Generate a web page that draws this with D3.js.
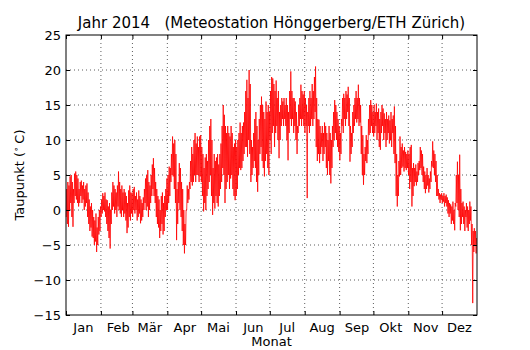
<!DOCTYPE html>
<html>
<head>
<meta charset="utf-8">
<script src="https://cdn.jsdelivr.net/npm/d3@7"></script>
<style>
  body { margin: 0; background: #fff; }
  text { font-family: "DejaVu Sans", sans-serif; fill: #000; }
</style>
</head>
<body>
<div id="chart"></div>
<script>
// Monatsnamen (Beschriftung der x-Achse)
var months = ["Jan", "Feb", "Mär", "Apr", "Mai", "Jun", "Jul", "Aug", "Sep", "Okt", "Nov", "Dez"];

// Tagesminimum des Taupunkts (°C), eine Zeile pro Monat
var dewLow = [
  [-1,-2,-2.4,0,1,-1,-2.4,1,2,1.5, 1,0.5,1,2,1,1.5,0,0.5,1,-1, -2,-3,-2.5,-3.8,-4,-5,-4.5,-6,-5,-3.5, -3],
  [-1,-0.5,0,-0.2,-1,-2,-3,-4,-5.5,-2, 0,0.5,-0.5,0,-1,0.5,0,-0.5,-1,0, -1,-0.5,-1.5,-3.3,-2.5,-1,-1.5,-0.5],
  [-1,0,-0.5,0,-1.5,-1,-0.5,-1.9,-1.5,-1, 0,1,0,0.5,-1,0,1,2,3,2, 1,-1,-2,-2.5,-4,-3,-2,-3.5,-3,-1, 0],
  [0,1,2,4,5,4.8,3,1,-4.3,-2, 1,0,-1,-3,-5,-6.2,-5,0,1,1.5, 3,4,3.5,4,5,4,5,5,4,4.8],
  [4,2,-0.2,1,0,2,3,4,5,2, -0.7,1,0.2,2,1,0.5,2,3,4,6, 5,1,3,4,5,3,4.5,5,3,2, 1.4],
  [2,3,5,6,5.7,6,7,8,9,9, 7.6,10,8,4,5,6,7,6,4,2.6, 5,8,9,7,6,4.8,7,8,6,5],
  [10,8,11,12,9,11,12,10,7.4,10, 12,13,12,13,12,10,7.1,11,13,12, 13,11,12,10,8,11,12,13,12,13, 12],
  [11,12,1.7,12,11,12,13,12,13,14, 9,7,8,6.7,8,9,7,8,9,6, 5,7,5,3.8,6,9,10,11,10,9, 8.3],
  [7.1,8,12,11,13,12,13,14,12,6.9, 8,9,11,12,13,12.5,13,12,12.5,8, 5,3.6,5,7,6.7,8,10.7,11,12,11],
  [10.5,11,12,10,11,9,8.6,11,12,10, 11,9,10,11,9.5,10,9,11,8,6.7, 2,0.5,2,4.8,5,6,6.2,5.5,6,5.7, 6],
  [5,3,4,0.5,2,3.4,4,3.5,4,5, 5.7,6,5,4,3,2.4,3,3.5,2.5,3, 4,6.2,6,5,4,2,2,1.5,1,1.5],
  [1,1.2,0.5,1,0.5,-0.5,-1,-0.5,-2,-1.5, -2,-2.9,0.5,1,0,-1,-2.9,-2,-1,-2, -3,-1,-2.5,-3,-2,-1.5,-5,-13.3,-6,-5, -6.2]
];

// Tagesmaximum des Taupunkts (°C)
var dewHigh = [
  [3,4,3.5,4.8,5,4,3,5.2,5.5,5, 4.5,3,4,4.2,3.5,4,3,3.5,3.8,2.5, 1.5,0.5,1,0,-1,-1.5,-0.5,-2.5,-1,0, 0.5],
  [1.5,2.4,2,2.5,1.5,1.4,0.5,1,0,2.5, 4,3.5,3,2.5,3.5,5.5,4,3,3.5,2.5, 3,2.5,2,1,2.8,3.5,2.5,2.4],
  [3,3.3,2,2.5,1.5,2.8,2,1.5,1,1.8, 3,4.5,5,5.7,4,3.5,5,6.5,7.4,6, 4,3,2,1.5,0,2,2.5,1,2,3, 4.5],
  [5,6.2,6,8,10.5,9.5,10,8,3,4, 6.7,6,4,3,0,-2,0,3.5,3,4, 7,9,8,10,11,9.5,10.5,9,10.5,10.7],
  [9,8,6,7.5,8,7,10,12,13,10, 6,8,7,7.5,8,6.5,8,9.5,12,15, 13.6,12,11,12,11,10.5,12,11,9,9.5, 10],
  [9,10,11,12.5,11,12,12.5,14,17,18.6, 16,20,18,10,9,11,13,14,12,10, 13,15,16.2,15,14,13,15.5,14,15,14],
  [17,19,18.8,18,17,18.5,16,17,14,15, 16,15.5,16,15,16,15,14,17,19.8,17, 16,16,15.5,14,12,15,16,17.9,17,16.5, 17],
  [16,15,14,16,17,16,18,17,19,20.5, 16,13,12.9,12,11,12,11,12.5,12,11, 10,12,11,10,12,14,15.7,15,14,13, 12],
  [11,13,16,16.6,16,17,16.5,17.6,16,12, 11,14,15,16,17,16,17.9,16,15,12, 10.7,8,9,10.7,10,13,15,15.7,15,14],
  [15,14,15.2,14,14.5,13,14,15,14.5,13.8, 13,14,13,13.5,12.8,14,13,13.5,14.8,12, 8,5,7,10.5,9,9.5,8.5,9,8.3,8, 8.5],
  [8,9,9.3,6,6.7,6,6.5,5.5,6.7,7, 9,8.5,8,6.2,5.5,5,6,5,4.5,5.5, 7,9.8,8.5,8,7,5,3,2.4,2.2,2.4],
  [2,2.4,2,2.2,1.8,1.4,1,0.8,0.5,1.2, 0,1,5,6.9,5,7.9,3,1,1.2,0.5, 0,1,0.5,0,1.2,0.5,-2,-3,-2.6,-3, -4]
];

var yTicks = [-15, -10, -5, 0, 5, 10, 15, 20, 25];

var svgWidth = 530, svgHeight = 350;
var margin = {top: 35, right: 53, bottom: 35, left: 66};
var width = svgWidth - margin.left - margin.right;
var height = svgHeight - margin.top - margin.bottom;

var svg = d3.select("#chart").append("svg")
  .attr("width", svgWidth)
  .attr("height", svgHeight)
  .style("display", "block");

var g = svg.append("g")
  .attr("transform", `translate(${margin.left},${margin.top})`);

var x = d3.scaleTime()
  .domain([new Date(2014, 0, 1), new Date(2015, 0, 1)])
  .range([0, width]);

var y = d3.scaleLinear()
  .domain([-15, 25])
  .range([height, 0]);

// Punkte aufbauen: Minimum morgens, Maximum nachmittags
var points = [];
dewLow.forEach(function(row, m) {
  row.forEach(function(lo, i) {
    points.push({date: new Date(2014, m, i + 1, 5), v: lo});
    points.push({date: new Date(2014, m, i + 1, 15), v: dewHigh[m][i]});
  });
});

var monthStarts = d3.timeMonth.range(new Date(2014, 0, 1), new Date(2015, 0, 1));
var midMonths = monthStarts.map(function(d) { return new Date(d.getFullYear(), d.getMonth(), 16); });

// Gitter
g.append("g").selectAll("line")
  .data(monthStarts.slice(1))
  .enter().append("line")
  .attr("x1", d => x(d)).attr("x2", d => x(d))
  .attr("y1", 0).attr("y2", height)
  .attr("stroke", "#333").attr("stroke-width", 0.8)
  .attr("stroke-dasharray", "1,3");

g.append("g").selectAll("line")
  .data(yTicks.slice(1, -1))
  .enter().append("line")
  .attr("x1", 0).attr("x2", width)
  .attr("y1", d => y(d)).attr("y2", d => y(d))
  .attr("stroke", "#333").attr("stroke-width", 0.8)
  .attr("stroke-dasharray", "1,3");

// Datenlinie
g.append("path")
  .datum(points)
  .attr("fill", "none")
  .attr("stroke", "#ff0000")
  .attr("stroke-width", 0.8)
  .attr("d", d3.line().x(d => x(d.date)).y(d => y(d.v)));

// Achsen (Striche nach innen, wie matplotlib)
var fmtMinus = d => String(d).replace("-", "\u2212");

g.append("g")
  .attr("transform", `translate(0,${height})`)
  .call(d3.axisBottom(x).tickValues(monthStarts).tickSize(-4).tickFormat(""))
  .call(a => a.select(".domain").remove());

g.append("g")
  .call(d3.axisTop(x).tickValues(monthStarts).tickSize(-4).tickFormat(""))
  .call(a => a.select(".domain").remove());

g.append("g")
  .attr("transform", `translate(0,${height})`)
  .call(d3.axisBottom(x).tickValues(midMonths).tickSize(0).tickPadding(8)
    .tickFormat((d, i) => months[i]))
  .call(a => a.select(".domain").remove())
  .selectAll("text").style("font-size", "13px");

g.append("g")
  .call(d3.axisLeft(y).tickValues(yTicks).tickSize(-4).tickPadding(5).tickFormat(fmtMinus))
  .call(a => a.select(".domain").remove())
  .selectAll("text").style("font-size", "13px");

g.append("g")
  .attr("transform", `translate(${width},0)`)
  .call(d3.axisRight(y).tickValues(yTicks).tickSize(-4).tickFormat(""))
  .call(a => a.select(".domain").remove());

g.selectAll(".tick line").attr("stroke", "#000");

// Rahmen
g.append("rect")
  .attr("width", width).attr("height", height)
  .attr("fill", "none").attr("stroke", "#000").attr("stroke-width", 1);

// Titel und Achsenbeschriftungen
svg.append("text")
  .attr("x", margin.left + width / 2).attr("y", 28)
  .attr("text-anchor", "middle")
  .style("font-size", "15px")
  .text("Jahr 2014   (Meteostation Hönggerberg/ETH Zürich)")
  .attr("xml:space", "preserve");

svg.append("text")
  .attr("x", margin.left + width / 2).attr("y", 346)
  .attr("text-anchor", "middle")
  .style("font-size", "13px")
  .text("Monat");

var yl = svg.append("text")
  .attr("transform", `translate(24,${margin.top + height / 2}) rotate(-90)`)
  .attr("text-anchor", "middle")
  .style("font-size", "13px");
yl.append("tspan").text("Taupunkt (");
yl.append("tspan").attr("dy", -5).style("font-size", "9px").text("\u2218");
yl.append("tspan").attr("dy", 5).text("\u2009C)");
</script>
</body>
</html>
